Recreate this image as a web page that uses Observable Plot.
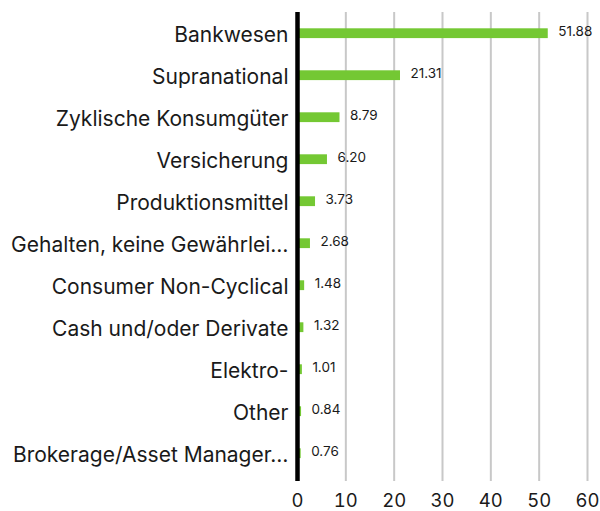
<!DOCTYPE html>
<html>
<head>
<meta charset="utf-8">
<script src="https://cdn.jsdelivr.net/npm/d3@7"></script>
<script src="https://cdn.jsdelivr.net/npm/@observablehq/plot@0.6"></script>
<style>
  html, body { margin: 0; padding: 0; background: #fff; }
  #chart { width: 600px; height: 511px; }
</style>
</head>
<body>
<div id="chart"></div>
<script>
const categories = [
  "Bankwesen",
  "Supranational",
  "Zyklische Konsumgüter",
  "Versicherung",
  "Produktionsmittel",
  "Gehalten, keine Gewährlei…",
  "Consumer Non-Cyclical",
  "Cash und/oder Derivate",
  "Elektro-",
  "Other",
  "Brokerage/Asset Manager…"
];
const values = [51.88, 21.31, 8.79, 6.20, 3.73, 2.68, 1.48, 1.32, 1.01, 0.84, 0.76];
const xTicks = [0, 10, 20, 30, 40, 50, 60];

const data = categories.map((c, i) => ({category: c, value: values[i]}));

const chart = Plot.plot({
  width: 600,
  height: 511,
  marginTop: 12,
  marginBottom: 30,
  marginLeft: 297,
  marginRight: 13,
  style: {fontFamily: "Inter, 'Noto Sans', sans-serif", color: "#1a1a1a", background: "#fff"},
  x: {domain: [0, 60], ticks: xTicks, label: null},
  y: {domain: categories, padding: 0, label: null},
  marks: [
    Plot.ruleX(xTicks.filter(d => d > 0), {stroke: "#c8c8c8", strokeWidth: 2}),
    Plot.barX(data, {y: "category", x: "value", fill: "#74c833", insetTop: 12.3, insetBottom: 19.9}),
    Plot.text(data, {y: "category", x: "value", text: d => d.value.toFixed(2), dx: 10, dy: -6, textAnchor: "start", fontSize: 13.5, fill: "#1a1a1a"}),
    Plot.ruleX([0], {stroke: "#000", strokeWidth: 4.5}),
    Plot.axisY({tickSize: 0, tickPadding: 9, fontSize: 21, dy: -2}),
    Plot.axisX({ticks: xTicks, tickSize: 0, tickPadding: 12, fontSize: 18.5, tickFormat: d => String(d)})
  ]
});
document.getElementById("chart").appendChild(chart);
</script>
</body>
</html>
